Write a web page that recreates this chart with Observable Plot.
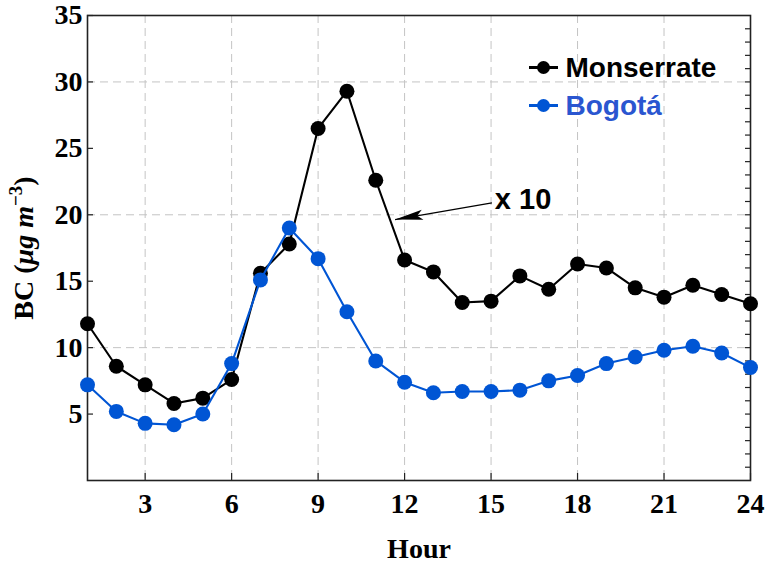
<!DOCTYPE html>
<html><head><meta charset="utf-8">
<script src="https://cdn.jsdelivr.net/npm/d3@7"></script>
<script src="https://cdn.jsdelivr.net/npm/@observablehq/plot@0.6"></script>
<style>html,body{margin:0;padding:0;background:#fff}#chart{width:768px;height:564px}</style>
</head><body><div id="chart"></div>
<script>
const hours = [1,2,3,4,5,6,7,8,9,10,11,12,13,14,15,16,17,18,19,20,21,22,23,24];
const monserrate = [11.8,8.6,7.2,5.8,6.2,7.6,15.6,17.8,26.5,29.3,22.6,16.6,15.7,13.4,13.5,15.4,14.4,16.3,16.0,14.5,13.8,14.7,14.0,13.3];
const bogota = [7.2,5.2,4.3,4.2,5.0,8.8,15.1,19.0,16.7,12.7,9.0,7.4,6.6,6.7,6.7,6.8,7.5,7.9,8.8,9.3,9.8,10.1,9.6,8.5];
const seriesNames = ["Monserrate", "Bogotá"];
const seriesColors = ["#000000", "#0055d4"];
const legendTextColors = ["#000000", "#2a56d0"];
const xTicks = [3,6,9,12,15,18,21,24];
const yTicks = [5,10,15,20,25,30,35];
const xGrid = [3,6,9,12,15,18,21];
const yGrid = [10,20,30];
const yMinor = [1,2,3,4,5,6,7,8,9,10,11,12,13,14,15,16,17,18,19,20,21,22,23,24,25,26,27,28,29,30,31,32,33,34];
const xLabel = ["Hour"];
const yLabel = ["BC (μg m−3)"];
const annotText = ["x 10"];
const annotTextPos = [15.13, 21.15];
const annotTail = [15.03, 20.9];
const annotTip = [11.67, 19.64];

const W = 768, H = 564, ML = 87, MR = 18, MT = 15, MB = 84;
const PW = W - ML - MR, PH = H - MT - MB;

const seriesData = [monserrate, bogota].map((vals, s) =>
  hours.map((h, i) => ({hour: h, bc: vals[i], site: seriesNames[s]})));

const headShape = {
  draw(context, l) {
    context.moveTo(0, 0);
    context.lineTo(-5, -l);
    context.lineTo(0, -l * 0.8);
    context.lineTo(5, -l);
    context.closePath();
  }
};
const legendLine = {
  draw(context) {
    context.moveTo(-14.5, 0);
    context.lineTo(14.5, 0);
  }
};

const gridStyle = {stroke: "#c4c4c4", strokeWidth: 1, strokeDasharray: "8,5"};
const marks = [
  Plot.ruleX(xGrid, {x: d => d, ...gridStyle}),
  Plot.ruleY(yGrid, {y: d => d, ...gridStyle}),
  Plot.tickY(yTicks, {y: d => d, insetRight: PW - 6, stroke: "#222", strokeWidth: 1.2}),
  Plot.tickY(yMinor, {y: d => d, insetLeft: PW - 5, stroke: "#222", strokeWidth: 1.2}),
  Plot.tickX(xTicks, {x: d => d, insetTop: PH - 7, stroke: "#222", strokeWidth: 1.2}),
  Plot.axisY(yTicks, {tickSize: 0, tickPadding: 5, label: null}),
  Plot.axisX(xTicks, {tickSize: 0, tickPadding: 13, label: null}),
  Plot.frame({stroke: "#222", strokeWidth: 1.6})
];
seriesData.forEach((rows, s) => {
  marks.push(Plot.line(rows, {x: "hour", y: "bc", stroke: seriesColors[s], strokeWidth: 2.1}));
  marks.push(Plot.dot(rows, {x: "hour", y: "bc", fill: seriesColors[s], r: 7.5}));
});
// legend
seriesNames.forEach((name, s) => {
  const dy = s === 0 ? 52 : 90;
  marks.push(Plot.dot([name], {frameAnchor: "top-left", dx: 456, dy, symbol: legendLine, stroke: seriesColors[s], strokeWidth: 3, fill: "none"}));
  marks.push(Plot.dot([name], {frameAnchor: "top-left", dx: 456, dy, r: 6.5, fill: seriesColors[s]}));
  marks.push(Plot.text([name], {frameAnchor: "top-left", dx: 478, dy: dy + 1, text: d => d, textAnchor: "start", lineAnchor: "middle", fill: legendTextColors[s], fontFamily: "'Liberation Sans', Arial, sans-serif", fontWeight: "bold", fontSize: 28}));
});
// annotation
marks.push(Plot.link(annotText, {x1: () => annotTail[0], y1: () => annotTail[1], x2: () => annotTip[0], y2: () => annotTip[1], stroke: "#000", strokeWidth: 1.2}));
marks.push(Plot.vector(annotText, {x: () => annotTip[0], y: () => annotTip[1], rotate: 80, length: 28, anchor: "start", shape: headShape, fill: "#000", stroke: "none"}));
marks.push(Plot.text(annotText, {x: () => annotTextPos[0], y: () => annotTextPos[1], text: d => d, textAnchor: "start", lineAnchor: "middle", fontFamily: "'Liberation Sans', Arial, sans-serif", fontWeight: "bold", fontSize: 29, fill: "#000"}));
// axis titles
marks.push(Plot.text(xLabel, {frameAnchor: "bottom", dy: 69, text: d => d, lineAnchor: "middle", fontSize: 28}));
marks.push(Plot.text(yLabel, {frameAnchor: "left", dx: -63, rotate: -90, text: d => d, lineAnchor: "middle", fontSize: 28}));

const chart = Plot.plot({
  width: W, height: H,
  marginLeft: ML, marginRight: MR, marginTop: MT, marginBottom: MB,
  x: {domain: [1, 24], label: null},
  y: {domain: [0, 35], label: null},
  style: {fontFamily: "'Liberation Serif', 'Times New Roman', serif", fontSize: "28px", fontWeight: "bold", background: "#fff", color: "#000"},
  marks
});
document.getElementById("chart").appendChild(chart);

// rich y label, centred manually
d3.select(chart).selectAll("text").filter(function() { return this.textContent === yLabel[0]; }).each(function() {
  const t = d3.select(this);
  t.text(null);
  t.append("tspan").text("BC (");
  t.append("tspan").attr("font-style", "italic").text("μg m");
  t.append("tspan").attr("font-size", 19).attr("dy", -11).text("−3");
  t.append("tspan").attr("dy", 11).text(")");
  const len = this.getComputedTextLength();
  t.attr("text-anchor", "start").attr("x", -len / 2);
});
</script>
</body></html>
